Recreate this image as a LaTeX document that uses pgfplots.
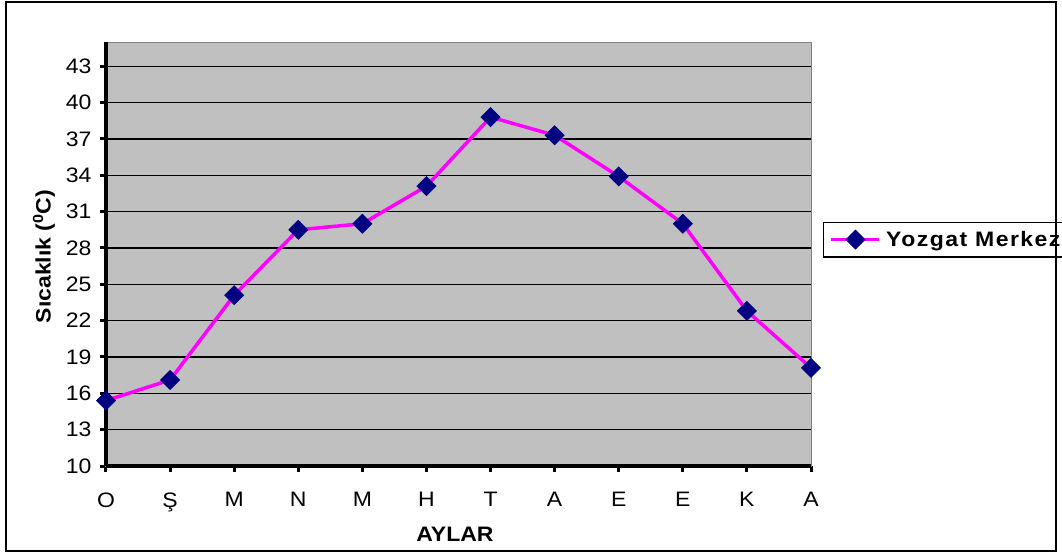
\documentclass[border=0pt]{standalone}
\usepackage{pgfplots}
\pgfplotsset{compat=1.18}
\usepackage{fontspec}
\setmainfont[FakeStretch=1.1]{Liberation Sans}
\definecolor{plotgray}{RGB}{192,192,192}
\definecolor{navyblue}{RGB}{0,0,128}
\definecolor{magentaline}{RGB}{255,0,255}
\begin{document}
\begin{tikzpicture}
\begin{axis}[
  scale only axis, width=705bp, height=424bp,
  at={(0,0)}, anchor=south west,
  xmin=0, xmax=11, ymin=10, ymax=45,
  xtick={0,...,11},
  xticklabels={O,Ş,M,N,M,H,T,A,E,E,K,A},
  ytick={10,13,...,43},
  ymajorgrids, major grid style={black, line width=1.2bp},
  axis background/.style={fill=plotgray},
  axis line style={draw=gray, line width=1bp},
  tick align=outside, xtick pos=left, ytick pos=left,
  major tick length=6bp,
  major tick style={black, line width=3bp},
  tick label style={font=\fontsize{21}{24}\selectfont},
  /pgf/number format/assume math mode=true,
  yticklabel style={xshift=-5bp},
  xticklabel style={yshift=-17bp},
  xlabel={AYLAR},
  xlabel style={at={(axis description cs:0.495,0)}, anchor=north, inner sep=0pt, yshift=-61bp, font=\bfseries\fontsize{21}{24}\selectfont},
  ylabel={Sıcaklık (\textsuperscript{0}C)},
  ylabel style={at={(axis description cs:-0.0785,0.494)}, anchor=base, rotate=0, font=\bfseries\fontsize{21}{24}\selectfont},
  clip=false,
  legend style={at={(1.017,0.534)}, anchor=west, draw=black, line width=1.5bp, fill=white,
    font=\bfseries\fontsize{21}{24}\selectfont\addfontfeatures{LetterSpace=7}, inner xsep=6bp, inner ysep=7bp,
    nodes={inner xsep=5bp}},
  legend cell align=left,
  legend image code/.code={\draw[mark repeat=2,mark phase=2] plot coordinates {(0bp,0bp) (24bp,0bp) (48bp,0bp)};},
]
\draw[black, line width=4bp] (rel axis cs:0,0) -- (rel axis cs:0,1);
\draw[black, line width=3.5bp] (rel axis cs:0,0) -- (rel axis cs:1,0);
\addplot[color=magentaline, line width=3.5bp, mark=square*,
  mark options={rotate=45, fill=navyblue, draw=navyblue, line width=0.5bp}, mark size=6.8bp]
  coordinates {
  (0,15.4) (1,17.1) (2,24.1) (3,29.5) (4,30.0) (5,33.1)
  (6,38.8) (7,37.3) (8,33.9) (9,30.0) (10,22.8) (11,18.1)
  };
\addlegendentry{Yozgat Merkez}
\end{axis}
\draw[black, line width=2bp] (-100bp,-85bp) rectangle (950bp,464bp);
\pgfresetboundingbox
\useasboundingbox (-106bp,-88bp) rectangle (956bp,466bp);
\end{tikzpicture}
\end{document}
